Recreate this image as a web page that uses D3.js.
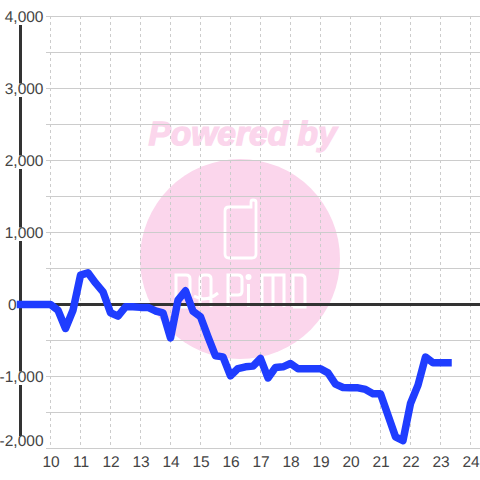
<!DOCTYPE html>
<html>
<head>
<meta charset="utf-8">
<script src="https://cdn.jsdelivr.net/npm/d3@7"></script>
<style>
  html, body { margin: 0; padding: 0; background: #fff; }
  svg { display: block; }
  text { font-family: "Liberation Sans", Arial, sans-serif; text-rendering: geometricPrecision; }
</style>
</head>
<body>
<div id="chart"></div>
<script>
const hours = [
  9, 9.25, 9.5, 9.75, 10, 10.25, 10.5, 10.75, 11, 11.25, 11.5, 11.75,
  12, 12.25, 12.5, 12.75, 13, 13.25, 13.5, 13.75, 14, 14.25, 14.5, 14.75,
  15, 15.25, 15.5, 15.75, 16, 16.25, 16.5, 16.75, 17, 17.25, 17.5, 17.75,
  18, 18.25, 18.5, 18.75, 19, 19.25, 19.5, 19.75, 20, 20.25, 20.5, 20.75,
  21, 21.25, 21.5, 21.75, 22, 22.25, 22.5, 22.75, 23, 23.25
];
const values = [
  0, 0, 0, 0, 0, -80, -333, -80, 407, 440, 300, 176,
  -115, -162, -32, -32, -40, -40, -90, -115, -465, 60, 190, -93,
  -170, -450, -713, -727, -990, -890, -866, -856, -750, -1020, -875, -866,
  -820, -893, -893, -893, -893, -950, -1106, -1153, -1157, -1157, -1180, -1240,
  -1240, -1537, -1838, -1890, -1375, -1120, -730, -810, -810, -810
];
const xTicks = [10, 11, 12, 13, 14, 15, 16, 17, 18, 19, 20, 21, 22, 23, 24];
const yLabels = [4000, 3000, 2000, 1000, 0, -1000, -2000];
const yGrid = [4000, 3500, 3000, 2500, 2000, 1500, 1000, 500, 0, -500, -1000, -1500, -2000];

const width = 480;
const height = 480;

const x = d3.scaleLinear().domain([10, 24]).range([50.5, 470.5]);
const y = d3.scaleLinear().domain([4000, -2000]).range([16.5, 448.5]);

const svg = d3.select("#chart").append("svg")
  .attr("width", width)
  .attr("height", height);

// watermark
const mark = svg.append("g");
const pink = "#fbd6ec";

mark.append("text")
  .attr("x", 242.5)
  .attr("y", 145)
  .attr("text-anchor", "middle")
  .attr("font-size", 33.5)
  .attr("font-weight", "bold")
  .attr("font-style", "italic")
  .attr("fill", pink)
  .attr("stroke", pink)
  .attr("stroke-width", 1.4)
  .text("Powered by");

mark.append("circle")
  .attr("cx", 240)
  .attr("cy", 259)
  .attr("r", 100)
  .attr("fill", pink);

// phone icon
mark.append("path")
  .attr("d", "M229,207 H251 V202 Q251,200 253,200 Q256,200 256,202 V254 Q256,258 252,258 H229 Q225,258 225,254 V211 Q225,207 229,207 Z")
  .attr("fill", "none")
  .attr("stroke", "#fff")
  .attr("stroke-width", 2.8);

// logo lettering
mark.append("path")
  .attr("d", "M176,307 V275 H186 Q190,275 190,279 V307 H176 M200,307 V279 Q200,275 204,275 H207 Q211,275 211,279 V307 M194,296 Q206,303 218,293 M228,307 V275 H238 Q242,275 242,279 V291 Q242,295 238,295 H228 M248.5,284 V307 M262,307 V275 H284 V307 M273,275 V307 M293,307 V275 H301 Q305,275 305,279 V307 H293")
  .attr("fill", "none")
  .attr("stroke", "#fff")
  .attr("stroke-width", 3);

mark.append("circle")
  .attr("cx", 248.5)
  .attr("cy", 277)
  .attr("r", 3)
  .attr("fill", "#fff");

// grid
svg.append("g")
  .selectAll("line")
  .data(yGrid)
  .enter()
  .append("line")
  .attr("x1", 46)
  .attr("x2", width)
  .attr("y1", d => y(d))
  .attr("y2", d => y(d))
  .attr("stroke", "#cccccc")
  .attr("stroke-width", 1);

svg.append("g")
  .selectAll("line")
  .data(xTicks)
  .enter()
  .append("line")
  .attr("x1", d => x(d))
  .attr("x2", d => x(d))
  .attr("y1", 16)
  .attr("y2", 448)
  .attr("stroke", "#cccccc")
  .attr("stroke-width", 1)
  .attr("stroke-dasharray", "3,3");

// zero line and left axis
svg.append("line")
  .attr("x1", 19)
  .attr("x2", width)
  .attr("y1", y(0))
  .attr("y2", y(0))
  .attr("stroke", "#333333")
  .attr("stroke-width", 3);

svg.append("line")
  .attr("x1", 20.5)
  .attr("x2", 20.5)
  .attr("y1", y(4000))
  .attr("y2", y(-2000))
  .attr("stroke", "#333333")
  .attr("stroke-width", 3);

// y labels sit on white boxes which cut the axis
const yAxis = svg.append("g")
  .attr("transform", "translate(43.5,0)")
  .call(d3.axisLeft(y)
    .tickValues(yLabels)
    .tickSize(0)
    .tickPadding(0)
    .tickFormat(d => d3.format(",")(d).replace("\u2212", "-")));

yAxis.select(".domain").remove();
yAxis.selectAll("text")
  .attr("font-size", 15.5)
  .attr("fill", "#444444")
  .style("font-family", "'Liberation Sans', Arial, sans-serif");

// the zero label hugs the axis, the lowest one is lifted off the edge
yAxis.selectAll(".tick text")
  .filter(d => d === 0)
  .attr("x", -27);

yAxis.selectAll(".tick")
  .filter(d => d === -2000)
  .attr("transform", `translate(0,${y(-2000) - 7})`);

yAxis.selectAll(".tick").each(function() {
  const t = d3.select(this).select("text");
  const b = t.node().getBBox();
  d3.select(this).insert("rect", "text")
    .attr("x", b.x)
    .attr("y", -5.5)
    .attr("width", b.width)
    .attr("height", 13.5)
    .attr("fill", "#fff");
});

const xAxis = svg.append("g")
  .attr("transform", "translate(0,455.5)")
  .call(d3.axisBottom(x).tickValues(xTicks).tickSize(0).tickPadding(0).tickFormat(d3.format("d")));

xAxis.select(".domain").remove();
xAxis.selectAll("text")
  .attr("font-size", 15.5)
  .attr("fill", "#444444")
  .style("font-family", "'Liberation Sans', Arial, sans-serif");

// series
const line = d3.line()
  .x((d, i) => x(hours[i]))
  .y(d => y(d));

svg.append("path")
  .datum(values)
  .attr("d", line)
  .attr("fill", "none")
  .attr("stroke", "#1f3dff")
  .attr("stroke-width", 7.5)
  .attr("stroke-linecap", "square")
  .attr("stroke-linejoin", "round");
</script>
</body>
</html>
